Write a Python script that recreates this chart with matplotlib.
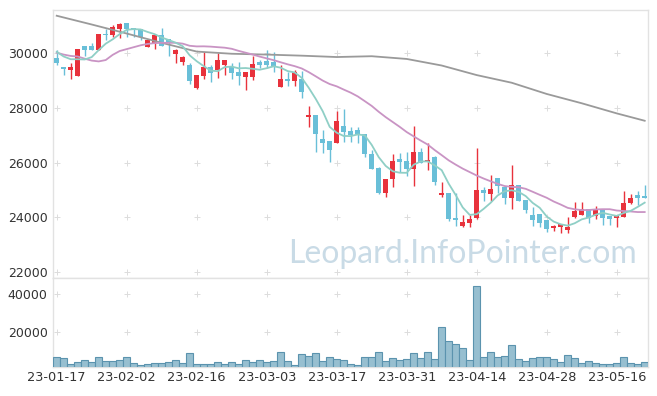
import numpy as np
import pandas as pd
import matplotlib
matplotlib.use("Agg")
import matplotlib.pyplot as plt

# ---------------- data ----------------
opens = [29820, 29450, 29390, 29180, 30270, 30270, 30120, 30720, 30660, 30880,
         31100, 30880, 30880, 30240, 30390, 30670, 30510, 29970, 29690, 29570,
         28740, 29170, 29500, 29390, 29570, 29510, 29320, 29140, 29140, 29680,
         29720, 29670, 28780, 29010, 29000, 29060, 27680, 27740, 26850, 26790,
         26730, 27340, 27150, 27190, 27030, 26310, 25800, 24890, 25390, 26120,
         26060, 25770, 26400, 26040, 26200, 24830, 24870, 23930, 23690, 23800,
         23980, 25010, 24850, 25420, 25110, 24690, 25180, 24630, 24080, 24110,
         23900, 23620, 23650, 23530, 24020, 24080, 24300, 24040, 24300, 24040,
         23960, 24020, 24540, 24810, 24750]
highs = [30120, 29510, 29660, 30150, 30270, 30370, 30710, 30900, 31040, 31120,
         31120, 30880, 30880, 30530, 30700, 30920, 30510, 30150, 29900, 29630,
         29200, 30060, 29570, 30000, 29750, 29630, 29690, 29320, 29880, 29750,
         30100, 30060, 29570, 29330, 29390, 29350, 28080, 27740, 27190, 26790,
         27890, 27950, 27310, 27310, 27030, 26450, 25850, 25400, 26310, 26360,
         26380, 27330, 26520, 26700, 26250, 25300, 24870, 24870, 24080, 24080,
         26520, 25100, 25540, 25420, 25110, 25930, 25180, 24630, 24360, 24110,
         23900, 23720, 23770, 24020, 24550, 24550, 24300, 24400, 24300, 24040,
         24040, 24970, 24860, 24970, 25180]
lows = [29570, 29200, 29050, 29180, 29900, 30100, 30120, 30500, 30610, 30550,
        30590, 30580, 30480, 30220, 30150, 30270, 29900, 29660, 29570, 28880,
        28700, 29060, 28950, 29080, 29200, 29050, 28840, 28660, 29020, 29450,
        29450, 29330, 28780, 28800, 28800, 28350, 27310, 26370, 26360, 26030,
        26700, 26760, 26760, 26700, 26210, 25770, 24850, 24750, 25120, 25660,
        25500, 25150, 25970, 25730, 25180, 24750, 23880, 23680, 23650, 23650,
        23940, 24600, 24600, 24900, 24500, 24320, 24600, 24150, 23680, 23650,
        23480, 23500, 23430, 23430, 23980, 24080, 23800, 23950, 23700, 23700,
        23650, 24020, 24500, 24450, 24700]
closes = [29660, 29430, 29490, 30150, 30120, 30100, 30710, 30660, 30950, 31070,
          30880, 30850, 30590, 30490, 30670, 30270, 30390, 30100, 29850, 29000,
          29200, 29490, 29270, 29750, 29750, 29290, 29180, 29320, 29610, 29580,
          29570, 29530, 29060, 28990, 29330, 28590, 27720, 27030, 26730, 26460,
          27520, 27130, 27010, 27030, 26300, 25770, 24890, 25400, 26060, 26030,
          25750, 26380, 25990, 26070, 25300, 24870, 23920, 23910, 23810, 23930,
          25000, 24900, 25020, 25150, 24690, 25180, 24600, 24260, 23900, 23800,
          23590, 23660, 23770, 23650, 24240, 24300, 23990, 24300, 23990, 23930,
          24040, 24530, 24690, 24710, 24710]
volumes = [6420, 5890, 2700, 3770, 4830, 3770, 6420, 4300, 4300, 4830,
           6420, 3240, 2180, 2700, 3240, 3240, 3770, 4830, 3240, 8540,
           2700, 2700, 2700, 3770, 2700, 3770, 2700, 4830, 3770, 4830,
           3770, 4300, 9070, 4300, 2180, 8010, 6950, 8540, 4300, 6420,
           5360, 4830, 2700, 2180, 6420, 6420, 9070, 4300, 5890, 4830,
           5360, 8540, 5890, 9070, 5360, 22650, 14900, 13300, 11200, 4830,
           44080, 6420, 9070, 6420, 6950, 12780, 5360, 4300, 5890, 6420,
           6420, 5360, 3770, 7480, 5890, 3240, 4300, 3240, 2700, 2700,
           3240, 6420, 3240, 2700, 3770]

# moving-average values visible before enough candles exist
ma5_head = [30050, 29880, 29780, 29780]
ma20_head = [30020, 29950, 29900, 29880, 29800, 29730, 29700, 29750, 29940, 30080,
             30150, 30220, 30290, 30340, 30370, 30380, 30380, 30380, 30350]
# long moving average (grey) read at candle indices
ma60_idx = [0, 5, 10, 15, 20, 25, 30, 35, 40, 45, 50, 55, 60, 65, 70, 75, 80, 84]
ma60_val = [31370, 31050, 30720, 30380, 30060, 29980, 29950, 29910, 29860, 29890,
            29790, 29550, 29200, 28920, 28510, 28170, 27800, 27530]

xtick_labels = ['23-01-17', '23-02-02', '23-02-16', '23-03-03', '23-03-17',
                '23-03-31', '23-04-14', '23-04-28', '23-05-16']
price_ticks = [22000, 24000, 26000, 28000, 30000]
volume_ticks = [20000, 40000]

# ---------------- styling ----------------
UP = '#e8323c'
DOWN = '#69bfd8'
MA5_C = '#8fcfc6'
MA20_C = '#c994c4'
MA60_C = '#9a9a9a'
VOL_FACE = '#97bfd0'
VOL_EDGE = '#5b93ae'
SPINE = '#e2e2e2'
TXT = '#333333'

W, H = 657, 396
fig = plt.figure(figsize=(W / 100, H / 100), dpi=100)
L, R = 53.2, 648.2
ax1 = fig.add_axes([L / W, (H - 278) / H, (R - L) / W, 268 / H])
ax2 = fig.add_axes([L / W, (H - 367) / H, (R - L) / W, 89 / H])

n = len(closes)
x = np.arange(n)
o = np.array(opens, float)
c = np.array(closes, float)
hi = np.array(highs, float)
lo = np.array(lows, float)
up = c >= o
cols = np.where(up, UP, DOWN)

# wicks
ax1.vlines(x, lo, hi, colors=cols, linewidth=1.0, zorder=3)
# bodies
bottom = np.minimum(o, c)
height = np.maximum(np.abs(c - o), 60)
ax1.bar(x, height, bottom=bottom, width=0.72, color=cols, linewidth=0, zorder=4)

# moving averages
cs = pd.Series(c)
ma5 = cs.rolling(5).mean().to_numpy()
ma5[:len(ma5_head)] = ma5_head
ma20 = cs.rolling(20).mean().to_numpy()
ma20[:len(ma20_head)] = ma20_head
ax1.plot(ma60_idx, ma60_val, color=MA60_C, linewidth=1.3, zorder=5)
ax1.plot(x, ma20, color=MA20_C, linewidth=1.3, zorder=5)
ax1.plot(x, ma5, color=MA5_C, linewidth=1.3, zorder=5)

ax1.set_xlim(-0.5, n - 0.5)
ax1.set_ylim(21780, 31580)

# volume
ax2.bar(x, volumes, width=1.0, color=VOL_FACE, edgecolor=VOL_EDGE, linewidth=0.8, zorder=3)
ax2.set_xlim(-0.5, n - 0.5)
ax2.set_ylim(1270, 48500)

xt = list(range(0, 81, 10))
for ax, yt in ((ax1, price_ticks), (ax2, volume_ticks)):
    for s in ax.spines.values():
        s.set_color(SPINE)
        s.set_linewidth(1.0)
    ax.set_yticks(yt)
    ax.set_yticklabels([str(v) for v in yt], fontsize=9, color=TXT)
    ax.tick_params(axis='both', length=0, pad=4)
    gx, gy = np.meshgrid(xt, yt)
    ax.scatter(gx.ravel(), gy.ravel(), marker='+', s=14, color='#dcdcdc',
               linewidths=0.7, zorder=1)

ax1.set_xticks([])
ax2.set_xticks(xt)
ax2.set_xticklabels(xtick_labels, fontsize=9.3, color=TXT)
ax2.tick_params(axis='x', pad=3)

# watermark
ax1.text(0.981, 0.056, 'Leopard.InfoPointer.com', transform=ax1.transAxes,
         ha='right', va='baseline', fontsize=23, family='Lato',
         color='#bcd2e0', alpha=0.8, zorder=2)

fig.savefig('out.png', dpi=100)
